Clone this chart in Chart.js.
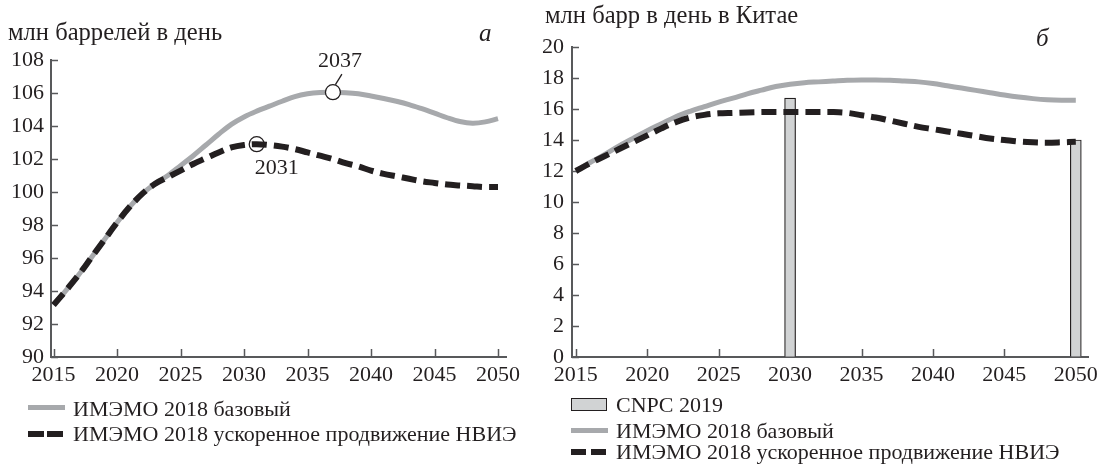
<!DOCTYPE html>
<html lang="ru">
<head>
<meta charset="utf-8">
<script src="https://cdn.jsdelivr.net/npm/chart.js@4.4.1/dist/chart.umd.min.js"></script>
<style>
  html, body { margin: 0; padding: 0; background: #fff; }
  body { width: 1106px; height: 469px; position: relative; overflow: hidden;
         font-family: 'Liberation Serif', 'DejaVu Serif', serif; color: #231f20; }
  .box { position: absolute; }
  .txt { position: absolute; white-space: nowrap; }
  .title { font-size: 24.6px; line-height: 28px; }
  .tag { font-size: 25px; line-height: 28px; font-style: italic; }
  .leg { font-size: 22px; line-height: 26px; }
  .sw { position: absolute; }
</style>
</head>
<body>
<div class="box" style="left:0;top:0;width:530px;height:400px"><canvas id="chartA"></canvas></div>
<div class="box" style="left:530px;top:0;width:576px;height:400px"><canvas id="chartB"></canvas></div>

<div class="txt title" style="left:8px;top:18px">млн баррелей в день</div>
<div class="txt tag" style="left:479px;top:19px">а</div>
<div class="txt title" style="left:545px;top:1px">млн барр в день в Китае</div>
<div class="txt tag" style="left:1036px;top:24px">б</div>

<!-- legend a -->
<div class="sw" style="left:28px;top:405px;width:37px;height:5px;background:#a7a9ac"></div>
<div class="txt leg" style="left:73px;top:396px">ИМЭМО 2018 базовый</div>
<div class="sw" style="left:28px;top:431px;width:16px;height:6px;background:#231f20"></div>
<div class="sw" style="left:47px;top:431px;width:16px;height:6px;background:#231f20"></div>
<div class="txt leg" style="left:73px;top:421px">ИМЭМО 2018 ускоренное продвижение НВИЭ</div>

<!-- legend b -->
<div class="sw" style="left:571px;top:398px;width:34px;height:11px;background:#d1d3d4;border:1.5px solid #231f20"></div>
<div class="txt leg" style="left:616px;top:392px">CNPC 2019</div>
<div class="sw" style="left:571px;top:428px;width:37px;height:5px;background:#a7a9ac"></div>
<div class="txt leg" style="left:616px;top:418px">ИМЭМО 2018 базовый</div>
<div class="sw" style="left:571px;top:449px;width:15px;height:6px;background:#231f20"></div>
<div class="sw" style="left:591px;top:449px;width:15px;height:6px;background:#231f20"></div>
<div class="txt leg" style="left:616px;top:439px">ИМЭМО 2018 ускоренное продвижение НВИЭ</div>

<script>
// ---- data ----
const years = [2015, 2016, 2017, 2018, 2019, 2020, 2021, 2022, 2023, 2024, 2025,
  2026, 2027, 2028, 2029, 2030, 2031, 2032, 2033, 2034, 2035, 2036, 2037, 2038,
  2039, 2040, 2041, 2042, 2043, 2044, 2045, 2046, 2047, 2048, 2049, 2050];

// world demand, mb/d
const worldBase = [93.15, 94.05, 95.0, 96.05, 97.1, 98.15, 99.1, 99.9, 100.5, 101.0, 101.6,
  102.2, 102.85, 103.5, 104.1, 104.55, 104.9, 105.2, 105.5, 105.78, 105.95, 106.03, 106.05, 106.02,
  105.95, 105.82, 105.67, 105.5, 105.3, 105.05, 104.78, 104.5, 104.27, 104.17, 104.25, 104.45];
const worldFast = [93.15, 94.05, 95.0, 96.05, 97.1, 98.15, 99.1, 99.9, 100.5, 100.9, 101.3,
  101.7, 102.05, 102.4, 102.7, 102.85, 102.9, 102.85, 102.75, 102.6, 102.4, 102.2, 102.0, 101.75,
  101.55, 101.3, 101.1, 100.95, 100.8, 100.65, 100.55, 100.45, 100.4, 100.35, 100.3, 100.3];

// China demand, mb/d
const chinaBase = [12.0, 12.55, 13.05, 13.6, 14.1, 14.6, 15.05, 15.5, 15.85, 16.15, 16.45,
  16.7, 16.98, 17.22, 17.45, 17.6, 17.7, 17.75, 17.8, 17.85, 17.87, 17.87, 17.85, 17.8,
  17.75, 17.65, 17.5, 17.35, 17.2, 17.05, 16.9, 16.77, 16.67, 16.6, 16.57, 16.57];
const chinaFast = [12.0, 12.5, 12.95, 13.4, 13.85, 14.3, 14.75, 15.15, 15.45, 15.62, 15.72,
  15.75, 15.78, 15.8, 15.8, 15.8, 15.8, 15.8, 15.8, 15.75, 15.6, 15.45, 15.25, 15.05,
  14.85, 14.7, 14.55, 14.4, 14.25, 14.1, 14.0, 13.9, 13.85, 13.83, 13.85, 13.88];

const cnpcYears = [2030, 2050];
const cnpcValues = [16.7, 14.0];

const xTicks = [2015, 2020, 2025, 2030, 2035, 2040, 2045, 2050];
const yTicksA = [90, 92, 94, 96, 98, 100, 102, 104, 106, 108];
const yTicksB = [0, 2, 4, 6, 8, 10, 12, 14, 16, 18, 20];

// peaks circled on panel a
const peakBaseYear = 2037;
const peakFastYear = 2031;

// ---- styles ----
const ink = '#231f20';
const axisColor = '#58595b';
const grayLine = '#a7a9ac';
const tickFont = { family: "'Liberation Serif', serif", size: 22 };

const pts = (xs, ys) => xs.map((x, i) => ({ x, y: ys[i] }));

// label offsets (px) from the circled point
const peakMarkers = [
  { year: peakBaseYear, value: worldBase[years.indexOf(peakBaseYear)], white: true, leader: true, dx: 7, dy: -31 },
  { year: peakFastYear, value: worldFast[years.indexOf(peakFastYear)], white: false, leader: false, dx: 20, dy: 24 }
];

// tick marks pointing into the plot area
const innerTicks = {
  id: 'innerTicks',
  beforeDatasetsDraw(chart) {
    const { ctx, chartArea: a, scales: { x, y } } = chart;
    ctx.save();
    ctx.strokeStyle = axisColor;
    ctx.lineWidth = 1.5;
    ctx.beginPath();
    x.ticks.forEach(t => {
      const px = Math.round(x.getPixelForValue(t.value)) + 0.5;
      ctx.moveTo(px, a.bottom);
      ctx.lineTo(px, a.bottom - 8);
    });
    y.ticks.forEach(t => {
      const py = Math.round(y.getPixelForValue(t.value)) + 0.5;
      ctx.moveTo(a.left, py);
      ctx.lineTo(a.left + 7, py);
    });
    ctx.stroke();
    ctx.restore();
  }
};

// circled peak points with year labels
const peakMarks = {
  id: 'peakMarks',
  afterDatasetsDraw(chart) {
    const { ctx, scales: { x, y } } = chart;
    peakMarkers.forEach(m => {
      const px = x.getPixelForValue(m.year);
      const py = y.getPixelForValue(m.value);
      ctx.save();
      ctx.setLineDash([]);
      ctx.lineWidth = 1.3;
      ctx.strokeStyle = ink;
      ctx.beginPath();
      ctx.arc(px, py, 7.5, 0, Math.PI * 2);
      if (m.white) {
        ctx.fillStyle = '#ffffff';
        ctx.fill();
      }
      ctx.stroke();
      if (m.leader) {
        ctx.beginPath();
        ctx.moveTo(px + 2.5, py - 7.5);
        ctx.lineTo(px + 9, py - 18);
        ctx.stroke();
      }
      ctx.fillStyle = ink;
      ctx.font = "22px 'Liberation Serif', serif";
      ctx.textAlign = 'center';
      ctx.textBaseline = 'middle';
      ctx.fillText(String(m.year), px + m.dx, py + m.dy);
      ctx.restore();
    });
  }
};

function axes(xMin, xMax, yMin, yMax, yTicks, yWidth, pad) {
  return {
    x: {
      type: 'linear', min: xMin, max: xMax, offset: false,
      grid: { display: true, drawOnChartArea: false, drawTicks: false, offset: false },
      border: { display: true, color: axisColor, width: 2 },
      afterBuildTicks: s => { s.ticks = xTicks.map(v => ({ value: v })); },
      afterFit: s => { s.height = 43; },
      ticks: { color: ink, font: tickFont, padding: 5, maxRotation: 0, autoSkip: false,
               callback: v => String(v) }
    },
    y: {
      min: yMin, max: yMax,
      grid: { display: true, drawOnChartArea: false, drawTicks: false },
      border: { display: true, color: axisColor, width: 2 },
      afterBuildTicks: s => { s.ticks = yTicks.map(v => ({ value: v })); },
      afterFit: s => { s.width = yWidth; },
      ticks: { color: ink, font: tickFont, padding: pad, autoSkip: false,
               callback: v => String(v) }
    }
  };
}

const common = {
  responsive: true,
  maintainAspectRatio: false,
  animation: false,
  events: [],
  elements: { point: { radius: 0 } },
};

new Chart(document.getElementById('chartA'), {
  type: 'line',
  data: {
    datasets: [
      { label: 'ИМЭМО 2018 базовый', data: pts(years, worldBase),
        borderColor: grayLine, borderWidth: 5, tension: 0.35, order: 2 },
      { label: 'ИМЭМО 2018 ускоренное продвижение НВИЭ', data: pts(years, worldFast),
        borderColor: ink, borderWidth: 6, borderDash: [15, 7], tension: 0.35, order: 1 }
    ]
  },
  options: {
    ...common,
    layout: { padding: { left: 0, top: 60, right: 24, bottom: 0 } },
    scales: axes(2014.8, 2050.63, 90, 108, yTicksA, 51, 7),
    plugins: { legend: { display: false }, tooltip: { enabled: false } }
  },
  plugins: [innerTicks, peakMarks]
});

new Chart(document.getElementById('chartB'), {
  type: 'line',
  data: {
    datasets: [
      { type: 'bar', label: 'CNPC 2019', data: pts(cnpcYears, cnpcValues),
        backgroundColor: '#d1d3d4', borderColor: ink, borderWidth: 1.2,
        barThickness: 11, order: 3 },
      { label: 'ИМЭМО 2018 базовый', data: pts(years, chinaBase),
        borderColor: grayLine, borderWidth: 5, tension: 0.35, order: 2 },
      { label: 'ИМЭМО 2018 ускоренное продвижение НВИЭ', data: pts(years, chinaFast),
        borderColor: ink, borderWidth: 6, borderDash: [15, 7], tension: 0.35, order: 1 }
    ]
  },
  options: {
    ...common,
    layout: { padding: { left: 0, top: 47, right: 18, bottom: 0 } },
    scales: axes(2014.734, 2050.854, 0, 20, yTicksB, 42, 8),
    plugins: { legend: { display: false }, tooltip: { enabled: false } }
  },
  plugins: [innerTicks]
});
</script>
</body>
</html>
